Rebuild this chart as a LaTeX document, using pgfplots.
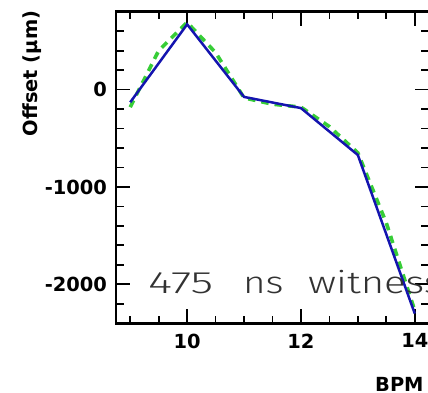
\documentclass[border=0pt]{standalone}
\usepackage{fontspec}
\usepackage{graphicx}
\usepackage{pgfplots}
\pgfplotsset{compat=1.18}
\setmainfont{Liberation Sans}
\newfontfamily\dvs{DejaVu Sans}
\newfontfamily\thin{Fira Sans Light}
\definecolor{lblue}{RGB}{20,20,175}
\definecolor{lgreen}{RGB}{55,205,55}
\definecolor{wgray}{RGB}{50,50,50}
\begin{document}
\begin{tikzpicture}
\begin{axis}[
 at={(116bp,69.7bp)}, anchor=south west,
 scale only axis, width=313bp, height=311.6bp,
 xmin=8.75, xmax=14.25, ymin=-2400, ymax=800,
 axis line style={line width=2.5bp},
 xtick={10,12,14}, xticklabels={10,12,14},
 minor xtick={9,9.5,10.5,11,11.5,12.5,13,13.5},
 ytick={-2000,-1000,0}, yticklabels={-2000,-1000,0},
 minor ytick={-2200,-1800,-1600,-1400,-1200,-800,-600,-400,-200,200,400,600},
 tick align=inside,
 major tick length=14bp, minor tick length=7.5bp,
 every tick/.style={black, line width=1.8bp},
 tick label style={font=\dvs\bfseries\fontsize{19.5}{20}\selectfont},
 yticklabel style={xshift=-5.5bp},
 xticklabel style={yshift=-7bp},
]
\addplot[lgreen, line width=3.6bp, dash pattern=on 7.5bp off 6bp] coordinates {
 (9,-180) (9.5,400) (10,690) (10.5,380) (11,-85) (11.5,-150) (12,-180)
 (12.5,-380) (13,-650) (13.5,-1370) (14,-2270)};
\addplot[lblue, line width=2.5bp] coordinates {
 (9,-130) (10,670) (11,-75) (12,-190) (13,-672) (14,-2300)};
\end{axis}
\node[anchor=base west, text=wgray, inner sep=0, font=\thin\fontsize{31}{31}\selectfont] at (148bp,99.7bp) {\scalebox{1.5}[1]{475}};
\node[anchor=base west, text=wgray, inner sep=0, font=\thin\fontsize{31}{31}\selectfont] at (243bp,99.7bp) {\scalebox{1.25}[1]{ns}};
\node[anchor=base west, text=wgray, inner sep=0, font=\thin\fontsize{31}{31}\selectfont] at (308bp,99.7bp) {\scalebox{1.3}[1]{witness}};
\node[rotate=90, inner sep=0, font=\dvs\bfseries\fontsize{19.5}{20}\selectfont] at (32bp,319.5bp) {Offset (μm)};
\node[anchor=west, inner sep=0, font=\dvs\bfseries\fontsize{19.5}{20}\selectfont] at (375bp,9bp) {BPM};
\pgfresetboundingbox
\useasboundingbox (0,0) rectangle (428bp,393bp);
\end{tikzpicture}
\end{document}
